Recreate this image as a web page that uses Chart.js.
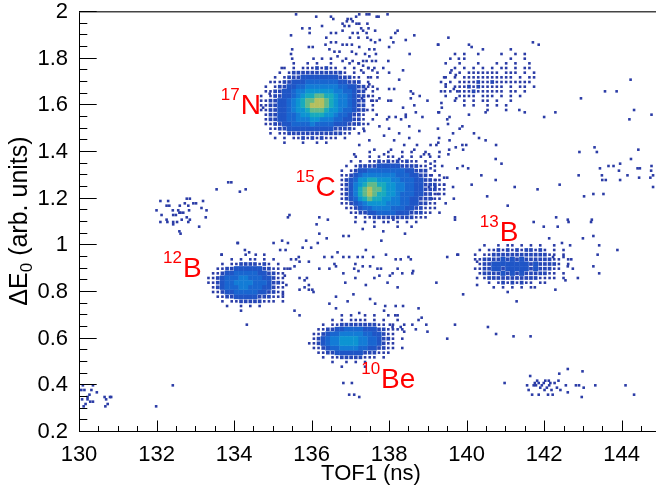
<!DOCTYPE html>
<html>
<head>
<meta charset="utf-8">
<script src="https://cdn.jsdelivr.net/npm/chart.js@4/dist/chart.umd.min.js"></script>
<style>
  html, body { margin: 0; padding: 0; background: #fff; }
  #wrap { width: 656px; height: 488px; }
</style>
</head>
<body>
<div id="wrap"><canvas id="pid" width="656" height="488"></canvas></div>
<script>
// Particle identification: energy loss vs time of flight, 2D histogram.
// Dense loci are stored as binned counts (one character per bin, '.' = empty,
// 1..9 = relative content); isolated events are stored as (TOF1, dE0) pairs.
const binX = 0.12;   // ns per bin
const binY = 0.02;   // dE0 units per bin

// 17N locus, first bin centre (TOF1, dE0) then rows going down in dE0
const n17Corner = [134.58, 1.78];
const n17Rows = [
  "........1..1.1..1...1.1.....",
  "......1.1.11121211.1.1..1...",
  ".....1.1222222222221.1.1....",
  "....1.12223333333322211.1...",
  "...1.122333444444433222.1...",
  "..1.1223344555555544332211..",
  "..1122334556666665544322.1..",
  ".1.12233456778877655432211..",
  ".11223345678899876554322.1..",
  ".11223345678999876554322.1..",
  ".11223345667888766544322.1..",
  "..1223344566777665443221....",
  "..1223344555665554433221.1..",
  "..11223344445444433322211...",
  "...1122333333333322221.1....",
  "...1.1122222222222211.1.....",
  "....1.1.1121212111.1........",
  "......1...1..1.1............"
];

// 15C locus
const c15Corner = [136.54, 1.40];
const c15Rows = [
  "........1...1..1.1..1..1..",
  ".....1..1.1.11.1.1.1.1....",
  "....1.1.11212121211.1.1...",
  "...1.1222233333222211.1...",
  "..1.12334444444433222.1...",
  "..11234555555544433221.1..",
  "..1234667766655444332211..",
  "..12356788776655443322211.",
  "..12357898876655443322211.",
  "..12357898776654443322111.",
  "..1234678776655443322211..",
  "..112345666655544332211...",
  "...11234455554443322111...",
  "....112233444433322211.1..",
  ".....1.11222222222111.....",
  ".......1.1.11.1.1.1.......",
  ".........1....1..1........"
];

// 12B locus
const b12Corner = [133.22, 0.96];
const b12Rows = [
  ".........1...1....",
  "......1.1.11.1.1..",
  "....1.112222121.1.",
  "...11223333332211.1",
  "..1123344444332211.",
  ".11234445544433211.",
  ".11234455554443221.",
  "..1234445544433211.",
  "..1123344444332211.",
  "...112233333222111.",
  "....1.1122222111.1.",
  ".....1..1.1.1......",
  "........1........."
];

// 10Be locus
const be10Corner = [135.82, 0.70];
const be10Rows = [
  "........1.1..1.1..1.1.",
  "......1.1.1111.1.1..1.",
  "....1.112222222211.1..",
  "...11223344443332211.1",
  "..112344555554433211..",
  "..123455666655443221.1",
  ".1123455666655443211..",
  "..112344555544332211.1",
  "...1122333333222111...",
  "....1.1122222111.1....",
  "......1..1.1.1........",
  "........1....1........"
];

// 13B locus
const b13Corner = [140.10, 1.00];
const b13Rows = [
  "...1..1.11.1.1.1..1....",
  "..1.1121212122121.1.1..",
  ".1.1122222222222211.1..",
  ".1122223232322222211.1.",
  "..122333333332322221.1.",
  ".1122332333332322211..1",
  "..12222323232222211.1..",
  "...1222222222221111.1..",
  "....1.12121211.11......",
  ".....1.1.1.1.1.........",
  "........1.............."
];

// weak group near TOF1 = 140.6 ns, dE0 = 1.67
const upperGroupCorner = [139.34, 1.86];
const upperGroupRows = [
  "......1..............1",
  ".........1.....1......",
  "...1.1..1....1..1.1...",
  "..1..1.........1..1...",
  ".1..1...1...1.1.1..1..",
  "...1.1.1.1.1.11.1.11..",
  "..1.1.1111111.111.1.1.",
  ".1.1.11111111111.1.11.",
  "1.1.1111211211111111..",
  ".1.11121211111.1.11.1.",
  "1.1.1112111111.11.1...",
  ".1..1111.111.1.1.1....",
  "...1.1.1.11.1..1......",
  ".....1.1..1.1.1.......",
  "..........1...1.......",
  "......1..............."
];

// isolated events: (TOF1 [ns], dE0)
const eventsGroupLowZ = [
  [132.10,1.19],[132.30,1.19],[132.78,1.20],[132.86,1.20],[133.20,1.19],[132.26,1.17],
  [132.33,1.17],[132.60,1.17],[132.73,1.18],[132.82,1.17],[132.95,1.18],[133.02,1.18],
  [132.00,1.15],[132.42,1.15],[132.56,1.15],[132.62,1.14],[132.69,1.14],[132.84,1.15],
  [133.16,1.16],[133.29,1.15],[132.13,1.13],[132.43,1.13],[132.50,1.13],[132.59,1.14],
  [132.78,1.12],[133.27,1.12],[132.26,1.11],[132.43,1.10],[132.53,1.10],[132.65,1.11],
  [132.86,1.11],[132.10,1.10],[132.28,1.10],[132.43,1.09],[132.59,1.06],[132.62,1.05],
  [132.82,1.10],[133.10,1.08],[133.55,1.24],[133.85,1.27],[133.93,1.27],[134.15,1.23],
  [134.30,1.24],[134.10,1.01],[133.68,0.96]
];

const eventsBottomLeft = [
  [130.10,0.40],[130.06,0.38],[130.14,0.38],[130.22,0.35],[130.27,0.36],[130.08,0.34],
  [130.17,0.32],[130.29,0.33],[130.36,0.33],[130.46,0.37],[130.12,0.31],[130.32,0.38],
  [130.36,0.40],[130.66,0.35],[130.70,0.34],[130.68,0.31],[130.74,0.32],[130.80,0.35],
  [130.83,0.35],[131.99,0.31],[132.42,0.40],[130.22,0.34]
];

const eventsBottomRight = [
  [141.64,0.44],[141.56,0.40],[141.60,0.38],[141.69,0.36],[141.76,0.41],[141.82,0.42],
  [141.79,0.40],[141.86,0.41],[141.90,0.39],[141.94,0.40],[141.99,0.41],[142.01,0.38],
  [142.07,0.39],[142.12,0.42],[142.13,0.40],[142.19,0.38],[142.22,0.36],[142.27,0.41],
  [142.33,0.39],[142.37,0.42],[142.42,0.38],[142.39,0.45],[142.61,0.47],[142.56,0.40],
  [142.61,0.37],[142.82,0.40],[142.90,0.40],[142.99,0.46],[143.02,0.39],[142.97,0.35],
  [143.32,0.40],[144.10,0.40],[144.32,0.36],[140.98,0.41],[142.10,0.36],[141.86,0.36],
  [141.73,0.40],[142.03,0.42],[142.16,0.41],[136.82,0.41],[137.04,0.41],[136.97,0.36],
  [137.10,0.36],[137.23,0.35]
];

const eventsRight = [
  [139.50,0.95],[139.78,0.96],[139.22,0.84],[139.91,0.79],[141.29,0.76],[139.70,0.66],
  [140.55,0.65],[139.50,0.60],[140.76,0.62],[141.21,0.61],[141.65,0.61],[141.73,1.10],
  [141.99,1.08],[142.35,1.08],[142.63,1.10],[143.21,1.10],[142.13,1.03],[142.46,1.01],
  [142.67,1.00],[143.00,1.03],[143.27,1.04],[143.42,1.00],[143.38,0.96],[143.89,0.98],
  [143.27,0.91],[143.42,0.88],[142.87,0.86],[142.55,0.85],[142.29,0.81],[141.76,0.82],
  [142.61,0.91],[142.50,0.95],[142.70,0.94],[142.23,0.95],
  [139.26,1.86],[140.13,1.85],[141.71,1.87],[139.35,1.61],[139.29,1.57],[140.49,1.57],
  [141.36,1.58],[141.50,1.57],[142.29,1.57],[142.00,1.55],[142.95,1.63],[143.57,1.66],
  [143.87,1.66],[144.23,1.71],[144.32,1.58],[144.20,1.54],[144.77,1.56],
  [143.30,1.42],[143.36,1.40],[142.91,1.40],[143.44,1.33],[143.66,1.34],[143.79,1.34],
  [143.96,1.35],[143.93,1.32],[143.49,1.30],[143.50,1.28],[143.59,1.28],[144.15,1.30],
  [143.96,1.28],[144.24,1.37],[144.43,1.41],[144.41,1.33],[144.47,1.33],[144.45,1.29],
  [144.74,1.29],[144.77,1.34],[144.81,1.30],[144.76,1.32],[144.81,1.25],
  [141.24,1.25],[141.83,1.24],[142.40,1.26],[143.03,1.21],[143.27,1.22],[143.53,1.22],
  [142.89,1.30],[139.70,1.11],[142.31,1.12],[142.61,1.11],[143.23,1.11]
];

const eventsStream = [
  [139.50,1.54],[139.52,1.52],[139.26,1.50],[139.56,1.55],[139.82,1.50],[139.89,1.51],
  [140.19,1.48],[140.32,1.46],[140.49,1.45],[139.65,1.48],[139.29,1.46],[139.27,1.44],
  [139.56,1.45],[139.07,1.43],[139.22,1.43],[139.72,1.42],[139.89,1.43],[139.99,1.43],
  [139.55,1.41],[139.91,1.41],[139.03,1.39],[139.29,1.38],[139.53,1.39],[139.07,1.35],
  [139.07,1.33],[139.37,1.34],[139.76,1.33],[139.90,1.34],[140.04,1.33],[139.10,1.30],
  [139.42,1.29],[139.50,1.29],[139.20,1.28],[139.03,1.25],[139.19,1.25],[139.42,1.26],
  [139.65,1.25],[139.67,1.20],[139.25,1.22],[139.10,1.20],[139.46,1.18],[140.13,1.26],
  [140.38,1.30],[140.75,1.28],[140.53,1.21],[141.06,1.17],[140.75,1.37],[140.90,1.35],
  [140.76,1.43],
  [137.75,1.51],[137.87,1.47],[138.00,1.50],[138.13,1.45],[138.26,1.48],[138.39,1.43],
  [138.52,1.46],[138.65,1.41],[138.05,1.41],[137.87,1.39],[138.26,1.37],[138.52,1.51],
  [138.78,1.49],[138.72,1.43],[138.90,1.39],[137.49,1.45],[137.62,1.41],[137.23,1.43],
  [137.36,1.49],[137.10,1.39],[138.31,1.54],[137.95,1.54]
];

const eventsTop = [
  [135.60,1.99],[136.12,1.98],[136.50,1.98],[136.56,1.97],[136.93,1.97],[137.02,1.97],
  [137.15,1.98],[137.23,1.99],[137.42,1.99],[137.49,1.99],[137.68,1.98],[137.73,1.98],
  [137.96,1.99],[136.80,1.95],[136.91,1.96],[137.06,1.96],[137.16,1.95],[137.23,1.95],
  [136.97,1.94],[136.85,1.94],[137.28,1.93],[137.44,1.95],[136.27,1.94],[135.76,1.93],
  [135.95,1.93],[135.95,1.91],[135.47,1.90],[136.50,1.91],[136.63,1.91],[136.80,1.92],
  [137.06,1.91],[137.19,1.91],[137.33,1.92],[137.47,1.93],[137.64,1.92],[137.42,1.91],
  [136.99,1.89],[137.21,1.89],[137.44,1.89],[137.53,1.88],[137.64,1.87],[137.76,1.88],
  [138.05,1.89],[138.16,1.91],[138.22,1.92],[138.11,1.87],[138.43,1.88],[138.65,1.90],
  [139.27,1.86],[139.53,1.89],[136.38,1.89],[136.50,1.87],[136.36,1.86],[136.63,1.87],
  [136.80,1.86],[136.91,1.86],[137.04,1.86],[137.23,1.85],[137.49,1.84],[137.62,1.84],
  [138.00,1.85],[136.03,1.85],[135.93,1.85],[135.50,1.84],[136.46,1.84],[136.59,1.83],
  [136.72,1.83],[137.04,1.83],[137.15,1.82],[137.38,1.82],[137.49,1.81],[137.33,1.79],
  [137.42,1.79],[137.56,1.79],[137.66,1.79],[137.66,1.82],[137.98,1.79],[138.53,1.82],
  [135.50,1.80],[135.47,1.82],[136.05,1.80],[136.27,1.80],[136.50,1.80],[136.67,1.81],
  [136.80,1.79],[136.89,1.80],[137.06,1.79],[137.21,1.78],[137.33,1.77],[137.47,1.76],
  [137.62,1.76],[137.70,1.74],[137.53,1.72],[137.70,1.72],[137.49,1.69],[137.40,1.67],
  [137.70,1.67],[137.47,1.64],[137.54,1.62],[137.68,1.62],[137.30,1.63],[137.98,1.62],
  [138.00,1.67],[138.05,1.62],[138.13,1.67],[137.75,1.63],[137.85,1.76],[138.00,1.74],
  [137.57,1.75],[137.28,1.75],[138.26,1.71],[138.36,1.75],[138.56,1.66],[138.62,1.65],
  [138.79,1.64],[138.56,1.63],[138.65,1.60],[138.36,1.59],[138.43,1.56],[138.69,1.57],
  [138.86,1.55],[138.99,1.62],[139.27,1.57],[139.36,1.59],[139.46,1.69],[139.61,1.75],
  [139.72,1.73],[139.42,1.72],[139.44,1.66],[139.67,1.67],[139.76,1.66],[139.73,1.63],
  [139.80,1.80],[138.00,1.55],[138.17,1.55],[138.43,1.55],[137.68,1.56],[137.44,1.58],
  [135.23,1.76],[135.05,1.70],[134.92,1.65],[134.75,1.59]
];

const eventsMiddle = [
  [135.39,1.12],[135.43,1.13],[136.20,1.12],[136.42,1.11],[136.13,1.09],[136.20,1.05],
  [136.39,1.03],[136.82,1.04],[136.96,1.04],[137.13,1.10],[137.32,1.07],[137.80,1.02],
  [137.85,1.06],[138.11,1.11],[138.41,1.05],[139.70,1.12],[134.09,1.01],[135.02,1.01],
  [135.24,1.02],[135.39,1.01],[135.86,1.02],[136.16,1.01],[134.28,0.98],[134.39,0.97],
  [134.56,0.96],[135.19,0.98],[135.33,0.98],[135.77,0.99],[135.99,0.99],[136.67,0.97],
  [137.40,0.98],[137.92,0.96],[139.76,0.96],[133.68,0.96],[135.60,0.94],[135.69,0.93],
  [135.93,0.93],[136.33,0.95],[136.53,0.95],[136.82,0.95],[136.97,0.95],[137.19,0.95],
  [137.32,0.95],[137.59,0.95],[138.17,0.94],[138.30,0.94],[138.50,0.95],[138.56,0.94],
  [136.20,0.90],[136.46,0.90],[136.59,0.92],[136.63,0.91],[136.82,0.88],[137.10,0.90],
  [137.13,0.92],[137.21,0.89],[137.32,0.91],[137.51,0.91],[137.62,0.86],[137.70,0.90],
  [137.79,0.90],[137.75,0.87],[138.02,0.87],[138.09,0.88],[138.22,0.90],[138.34,0.88],
  [138.62,0.89],[138.60,0.88],[137.13,0.86],[137.40,0.83],[137.96,0.84],[138.22,0.82],
  [136.87,0.84],[137.08,0.79],[136.63,0.78],[136.46,0.75],[136.93,0.76],[137.51,0.77],
  [137.64,0.75],[137.90,0.74],[138.17,0.74],[138.36,0.74],[138.76,0.73],[140.27,0.93],
  [140.27,0.86],[140.27,0.83],[135.31,0.87],[135.26,0.79],[135.35,0.83],[135.69,0.86],
  [135.82,0.85],[135.88,0.86],[135.93,0.83],[136.02,0.81],[136.05,0.80],[135.93,0.81],
  [135.82,0.82],[135.69,0.81],[135.47,0.94],[135.56,0.91],[135.45,0.90],[135.30,0.90],
  [135.67,0.95],[134.33,0.66],[135.56,0.72],[135.69,0.70],[136.63,0.73],[137.23,0.71],
  [137.87,0.72],[138.16,0.70],[138.30,0.65],[138.39,0.63],[138.60,0.66],[138.76,0.68],
  [138.84,0.69],[138.96,0.66],[138.99,0.63],[138.69,0.64],[138.02,0.66],[138.09,0.65],
  [138.22,0.64],[138.39,0.66]
];

// isotope labels: mass number, element, anchor (TOF1, dE0) of the label baseline
const isotopeMass   = ['17', '15', '12', '13', '10'];
const isotopeSymbol = ['N', 'C', 'B', 'B', 'Be'];
const isotopeLabelX = [133.66, 135.59, 132.17, 140.34, 137.28];
const isotopeLabelY = [1.562, 1.210, 0.863, 1.017, 0.387];

// axis labels
const xTickValues = [130, 132, 134, 136, 138, 140, 142, 144];
const yTickValues = [0.2, 0.4, 0.6, 0.8, 1, 1.2, 1.4, 1.6, 1.8, 2];

// ---------------------------------------------------------------------------
function gridToEvents(corner, rows) {
  const out = [];
  rows.forEach((row, r) => {
    for (let c = 0; c < row.length; c++) {
      const ch = row[c];
      if (ch === '.') continue;
      out.push({ x: corner[0] + c * binX, y: corner[1] - r * binY, v: Number(ch) });
    }
  });
  return out;
}
function pairsToEvents(list) {
  return list.map(p => ({ x: p[0], y: p[1], v: 1 }));
}

const histoPoints = [
  ...gridToEvents(n17Corner, n17Rows),
  ...gridToEvents(c15Corner, c15Rows),
  ...gridToEvents(b12Corner, b12Rows),
  ...gridToEvents(be10Corner, be10Rows),
  ...gridToEvents(b13Corner, b13Rows),
  ...gridToEvents(upperGroupCorner, upperGroupRows),
  ...pairsToEvents(eventsGroupLowZ),
  ...pairsToEvents(eventsBottomLeft),
  ...pairsToEvents(eventsBottomRight),
  ...pairsToEvents(eventsRight),
  ...pairsToEvents(eventsStream),
  ...pairsToEvents(eventsTop),
  ...pairsToEvents(eventsMiddle)
].sort((a, b) => a.v - b.v);

// colour scale, low -> high content
const levelColors = [null, '#2b3ca6', '#2546b6', '#1f55c6', '#1966d0',
                     '#137cd6', '#0d94d2', '#18aabd', '#62b98a', '#b4bf5e'];

const FONT = '"Liberation Sans", Arial, Helvetica, sans-serif';

function cellSide(ctx) {
  const xs = ctx.chart.scales.x;
  if (!xs) return 4.6;
  return Math.abs(xs.getPixelForValue(xs.min + binX) - xs.getPixelForValue(xs.min));
}
function pointSize(ctx) {
  const v = ctx.raw ? ctx.raw.v : 1;
  let side;
  if (v <= 1) side = 2.6;
  else if (v === 2) side = 3.7;
  else side = cellSide(ctx) + 0.4;
  return side * Math.SQRT1_2;
}

const axesAndLabels = {
  id: 'axesAndLabels',
  afterDatasetsDraw(chart) {
    const { ctx, chartArea: a, scales: { x, y } } = chart;
    ctx.save();
    // frame
    ctx.strokeStyle = '#000';
    ctx.lineWidth = 1;
    ctx.beginPath();
    ctx.moveTo(a.left + 0.5, a.top - 1);
    ctx.lineTo(a.left + 0.5, a.bottom - 0.5);
    ctx.lineTo(a.right + 2, a.bottom - 0.5);
    ctx.stroke();
    ctx.strokeStyle = '#444';
    ctx.lineWidth = 1.6;
    ctx.beginPath();
    ctx.moveTo(a.left, a.top - 0.3);
    ctx.lineTo(a.right + 2, a.top - 0.3);
    ctx.stroke();

    // tick marks, drawn inside the frame
    ctx.strokeStyle = '#000';
    ctx.lineWidth = 1;
    ctx.beginPath();
    for (let k = 0; ; k++) {
      const v = x.min + k * 0.5;
      if (v > x.max) break;
      const px = Math.round(x.getPixelForValue(v)) + 0.5;
      const len = (k % 4 === 0) ? 11.5 : 6;
      ctx.moveTo(px, a.bottom);
      ctx.lineTo(px, a.bottom - len);
    }
    for (let k = 0; ; k++) {
      const v = y.min + k * 0.05;
      if (v > y.max + 1e-9) break;
      const py = Math.round(y.getPixelForValue(v)) - 0.5;
      const len = (k % 4 === 0) ? 17.7 : 8.3;
      ctx.moveTo(a.left, py);
      ctx.lineTo(a.left + len, py);
    }
    ctx.stroke();

    // axis titles
    ctx.fillStyle = '#000';
    ctx.font = '22px ' + FONT;
    ctx.textAlign = 'center';
    ctx.textBaseline = 'alphabetic';
    ctx.fillText('TOF1 (ns)', (a.left + a.right) / 2 + 4, 480);

    ctx.save();
    ctx.translate(27, 221);
    ctx.rotate(-Math.PI / 2);
    ctx.textAlign = 'left';
    const big = '25px ' + FONT, small = '17px ' + FONT;
    ctx.font = big;  const w1 = ctx.measureText('\u0394E').width;
    ctx.font = small; const w2 = ctx.measureText('0').width;
    ctx.font = big;  const w3 = ctx.measureText(' (arb. units)').width;
    let sx = -(w1 + w2 + w3) / 2;
    ctx.font = big;   ctx.fillText('\u0394E', sx, 0); sx += w1;
    ctx.font = small; ctx.fillText('0', sx, 5); sx += w2;
    ctx.font = big;   ctx.fillText(' (arb. units)', sx, 0);
    ctx.restore();

    // isotope labels
    ctx.fillStyle = '#ff0000';
    ctx.textAlign = 'left';
    isotopeMass.forEach((m, i) => {
      const px = x.getPixelForValue(isotopeLabelX[i]);
      const py = y.getPixelForValue(isotopeLabelY[i]);
      ctx.font = '17px ' + FONT;
      ctx.fillText(m, px, py - 14);
      const w = ctx.measureText(m).width;
      ctx.font = '28px ' + FONT;
      ctx.fillText(isotopeSymbol[i], px + w + 1, py);
    });
    ctx.restore();
  }
};

new Chart(document.getElementById('pid'), {
  type: 'scatter',
  data: {
    datasets: [{
      data: histoPoints,
      pointStyle: 'rect',
      pointRadius: pointSize,
      pointHoverRadius: pointSize,
      pointBorderWidth: 0,
      pointBackgroundColor: ctx => levelColors[ctx.raw ? ctx.raw.v : 1],
      borderWidth: 0
    }]
  },
  options: {
    responsive: false,
    animation: false,
    devicePixelRatio: 1,
    events: [],
    layout: { padding: { top: 12, right: 1, left: 0, bottom: 0 }, autoPadding: false },
    plugins: { legend: { display: false }, tooltip: { enabled: false } },
    scales: {
      x: {
        type: 'linear',
        min: 130,
        max: 144.86,
        afterBuildTicks: s => { s.ticks = xTickValues.map(v => ({ value: v })); },
        afterFit: s => { s.height = 56; s.paddingLeft = 0; s.paddingRight = 0; },
        ticks: {
          font: { family: FONT, size: 22 },
          color: '#000',
          padding: 10,
          maxRotation: 0,
          autoSkip: false,
          callback: v => String(v)
        },
        grid: { display: false, drawTicks: false },
        border: { display: false }
      },
      y: {
        type: 'linear',
        min: 0.2,
        max: 2,
        afterBuildTicks: s => { s.ticks = yTickValues.map(v => ({ value: v })); },
        afterFit: s => { s.width = 79; s.paddingTop = 0; s.paddingBottom = 0; },
        ticks: {
          font: { family: FONT, size: 22 },
          color: '#000',
          padding: 11,
          autoSkip: false,
          callback: v => String(Number(v.toFixed(1)))
        },
        grid: { display: false, drawTicks: false },
        border: { display: false }
      }
    }
  },
  plugins: [axesAndLabels]
});
</script>
</body>
</html>
